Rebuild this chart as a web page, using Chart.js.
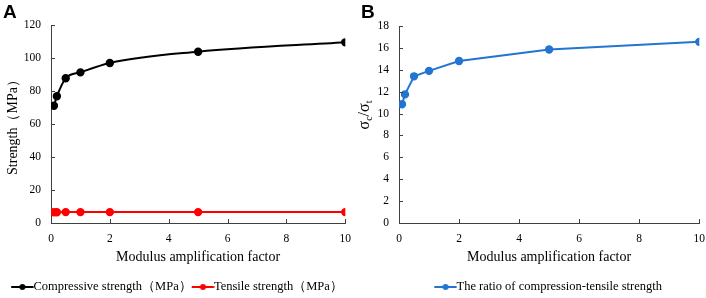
<!DOCTYPE html>
<html lang="en">
<head>
<meta charset="UTF-8">
<title>Strength vs modulus amplification factor</title>
<style>
  body {
    margin: 0;
    width: 706px;
    height: 298px;
    background: #fff;
    position: relative;
    overflow: hidden;
  }
  .panel { position: absolute; top: 0; height: 298px; }
  #panelA { left: -5px; width: 365px; }
  #panelB { left: 350px; width: 364px; }
  .tag {
    position: absolute;
    top: 1px;
    font: bold 19px "Liberation Sans", Arial, sans-serif;
    color: #000;
  }
</style>
</head>
<body>
<div class="panel" id="panelA"><canvas id="chartA" width="365" height="298"></canvas></div>
<div class="panel" id="panelB"><canvas id="chartB" width="364" height="298"></canvas></div>
<div class="tag" style="left:3px">A</div>
<div class="tag" style="left:361px">B</div>

<script src="https://cdn.jsdelivr.net/npm/chart.js"></script>
<script>
// data
const factors = [0.1, 0.2, 0.5, 1, 2, 5, 10];
const compressive = [71.1, 76.8, 87.7, 91.3, 97.0, 103.8, 109.5];
const tensile = [6.5, 6.5, 6.6, 6.6, 6.6, 6.6, 6.6];
const ratio = [10.85, 11.75, 13.4, 13.9, 14.8, 15.85, 16.55];

const xTicks = [0, 2, 4, 6, 8, 10];
const yTicksA = [0, 20, 40, 60, 80, 100, 120];
const yTicksB = [0, 2, 4, 6, 8, 10, 12, 14, 16, 18];

const serif = '"Liberation Serif", "Times New Roman", serif';
const axisColor = '#404040';

function pts(ys) {
    return factors.map((f, i) => ({ x: f, y: ys[i] }));
}

// line-with-dot legend marker; wider than the 14px legend box so the
// line runs right up to the label text like the Excel original
function legendMark(color) {
    const c = document.createElement('canvas');
    c.width = 28;
    c.height = 10;
    const g = c.getContext('2d');
    g.strokeStyle = color;
    g.lineWidth = 2;
    g.beginPath();
    g.moveTo(5, 5);
    g.lineTo(27.5, 5);
    g.stroke();
    g.fillStyle = color;
    g.beginPath();
    g.arc(16.25, 5, 3, 0, Math.PI * 2);
    g.fill();
    return c;
}

// Excel-like tick marks pointing into the plot
const innerTicks = {
    id: 'innerTicks',
    afterDraw(chart) {
        const { ctx, scales: { x, y } } = chart;
        ctx.save();
        ctx.strokeStyle = axisColor;
        ctx.lineWidth = 1;
        ctx.beginPath();
        x.ticks.forEach(t => {
            const px = Math.round(x.getPixelForValue(t.value)) + 0.5;
            ctx.moveTo(px, y.bottom);
            ctx.lineTo(px, y.bottom - 4);
        });
        y.ticks.forEach(t => {
            const py = Math.round(y.getPixelForValue(t.value)) + 0.5;
            ctx.moveTo(x.left, py);
            ctx.lineTo(x.left + 4, py);
        });
        ctx.stroke();
        ctx.restore();
    }
};

function scalesFor(yTicks, yMax, yTitle, yWidth, yTitlePad) {
    return {
        x: {
            type: 'linear',
            min: 0,
            max: 10,
            afterBuildTicks: s => { s.ticks = xTicks.map(v => ({ value: v })); },
            afterFit: s => { s.height = 55.75; },
            grid: { display: true, drawOnChartArea: false, drawTicks: false },
            border: { display: true, color: axisColor, width: 1 },
            ticks: { color: '#000', padding: 9, font: { family: serif, size: 11.5 } },
            title: {
                display: true,
                text: 'Modulus amplification factor',
                color: '#000',
                font: { family: serif, size: 14 },
                padding: { top: 0, bottom: 13 }
            }
        },
        y: {
            min: 0,
            max: yMax,
            afterBuildTicks: s => { s.ticks = yTicks.map(v => ({ value: v })); },
            afterFit: s => { s.width = yWidth; },
            grid: { display: true, drawOnChartArea: false, drawTicks: false },
            border: { display: true, color: axisColor, width: 1 },
            ticks: { color: '#000', padding: 10, font: { family: serif, size: 11.5 } },
            title: {
                display: !!yTitle,
                text: yTitle,
                color: '#000',
                font: { family: serif, size: 14 },
                padding: { top: yTitlePad, bottom: 0 }
            }
        }
    };
}

function legendFor(fullSize) {
    return {
        position: 'bottom',
        fullSize: fullSize,
        labels: {
            usePointStyle: true,
            pointStyleWidth: 14,
            color: '#000',
            padding: 2,
            font: { family: serif, size: 12.5 },
            generateLabels: chart => chart.data.datasets.map((ds, i) => ({
                text: ds.label,
                pointStyle: legendMark(ds.borderColor),
                fillStyle: ds.borderColor,
                strokeStyle: ds.borderColor,
                lineWidth: 0,
                datasetIndex: i
            }))
        }
    };
}

new Chart(document.getElementById('chartA'), {
    type: 'line',
    data: {
        datasets: [{
            label: 'Compressive strength（MPa）',
            data: pts(compressive),
            borderColor: '#000000',
            backgroundColor: '#000000',
            borderWidth: 2,
            pointRadius: 3.2,
            cubicInterpolationMode: 'monotone'
        }, {
            label: 'Tensile strength（MPa）',
            data: pts(tensile),
            borderColor: '#ff0000',
            backgroundColor: '#ff0000',
            borderWidth: 2,
            pointRadius: 3.2
        }]
    },
    options: {
        responsive: false,
        animation: false,
        layout: { padding: { top: 25, right: -1, left: 0, bottom: -5.25 } },
        scales: scalesFor(yTicksA, 120, 'Strength（MPa）', 56, 10),
        plugins: { legend: legendFor(true), tooltip: { enabled: false } }
    },
    plugins: [innerTicks]
});

// sigma_c / sigma_t axis label with subscripts
const ratioLabel = {
    id: 'ratioLabel',
    afterDraw(chart) {
        const ctx = chart.ctx;
        ctx.save();
        ctx.translate(15, 115);
        ctx.rotate(-Math.PI / 2);
        ctx.fillStyle = '#000';
        ctx.textBaseline = 'alphabetic';
        const big = '16px ' + serif;
        const small = '10px ' + serif;
        const parts = [['σ', big, 0], ['c', small, 3], ['/', big, 0], ['σ', big, 0], ['t', small, 3]];
        let w = 0;
        parts.forEach(p => { ctx.font = p[1]; w += ctx.measureText(p[0]).width; });
        let cx = -w / 2;
        parts.forEach(p => {
            ctx.font = p[1];
            ctx.fillText(p[0], cx, 4 + p[2]);
            cx += ctx.measureText(p[0]).width;
        });
        ctx.restore();
    }
};

new Chart(document.getElementById('chartB'), {
    type: 'line',
    data: {
        datasets: [{
            label: 'The ratio of compression-tensile strength',
            data: pts(ratio),
            borderColor: '#2474d2',
            backgroundColor: '#2474d2',
            borderWidth: 2,
            pointRadius: 3.2,
            tension: 0
        }]
    },
    options: {
        responsive: false,
        animation: false,
        layout: { padding: { top: 26, right: 0, left: 0, bottom: -5.25 } },
        scales: scalesFor(yTicksB, 18, '', 49, 0),
        plugins: { legend: legendFor(false), tooltip: { enabled: false } }
    },
    plugins: [innerTicks, ratioLabel]
});
</script>
</body>
</html>
